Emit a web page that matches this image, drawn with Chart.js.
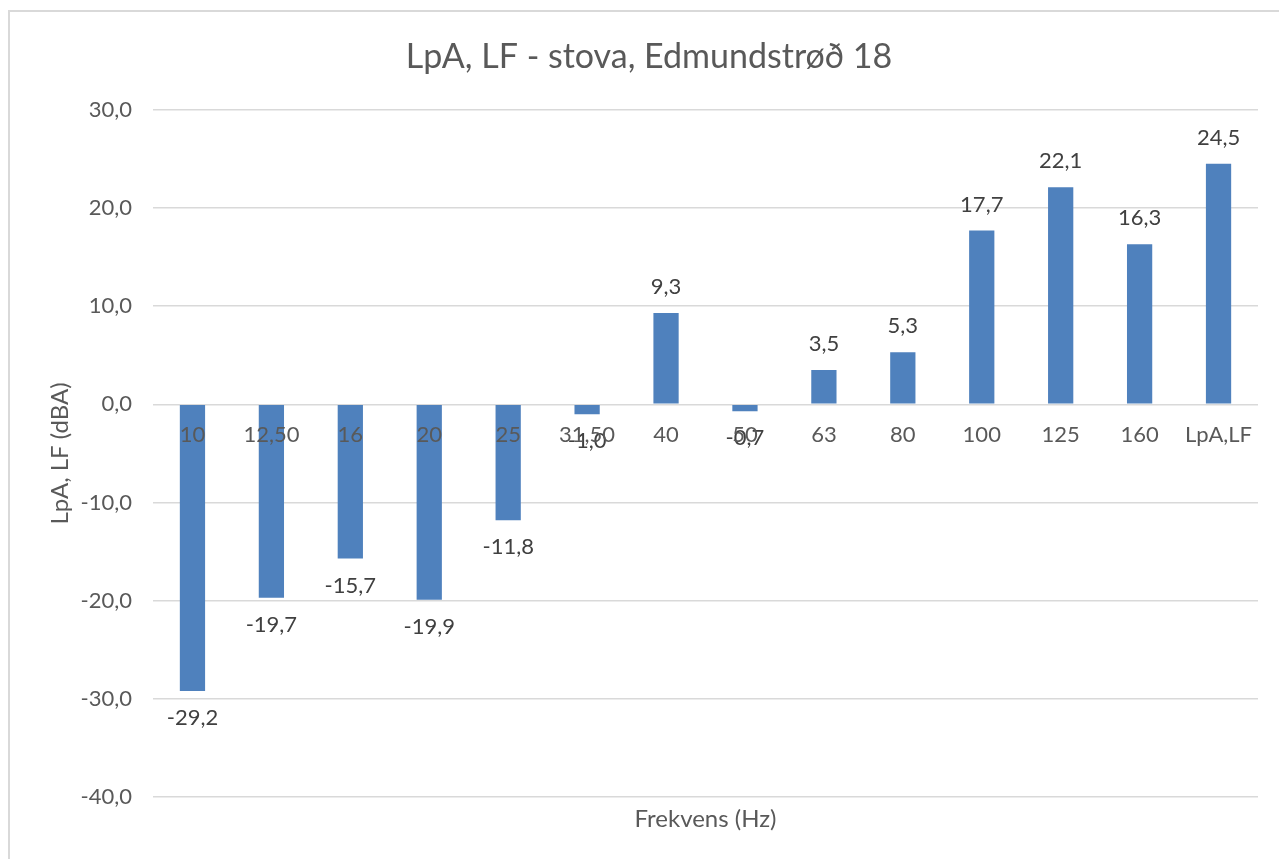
<!DOCTYPE html>
<html>
<head>
<meta charset="utf-8">
<script src="https://cdn.jsdelivr.net/npm/chart.js@4"></script>
<style>
  html, body { margin: 0; padding: 0; background: #fff; overflow: hidden; }
  #wrap { position: relative; width: 1279px; height: 859px; }
  #frame { position: absolute; left: 8px; top: 10px; width: 1400px; height: 1000px; border: 2px solid #d9d9d9; }
  canvas { position: absolute; left: 0; top: 0; }
</style>
</head>
<body>
<div id="wrap">
  <div id="frame"></div>
  <canvas id="chart" width="1279" height="859"></canvas>
</div>
<script>
const categories = ['10', '12,50', '16', '20', '25', '31,50', '40', '50', '63', '80', '100', '125', '160', 'LpA,LF'];
const levels = [-29.2, -19.7, -15.7, -19.9, -11.8, -1.0, 9.3, -0.7, 3.5, 5.3, 17.7, 22.1, 16.3, 24.5];
const yTicks = [30, 20, 10, 0, -10, -20, -30, -40];

const FONT = 'Lato, "Open Sans", sans-serif';
const fmt = v => Number(v).toFixed(1).replace('.', ',');

// draws the value above positive bars and below negative ones
const valueLabels = {
  id: 'valueLabels',
  afterDatasetsDraw(chart) {
    const ctx = chart.ctx;
    const meta = chart.getDatasetMeta(0);
    ctx.save();
    ctx.font = '22px ' + FONT;
    ctx.fillStyle = '#404040';
    ctx.textAlign = 'center';
    ctx.textBaseline = 'middle';
    meta.data.forEach((bar, i) => {
      const v = levels[i];
      const y = v >= 0 ? bar.y - 26 : bar.y + 27;
      ctx.fillText(fmt(v), bar.x, y);
    });
    ctx.restore();
  }
};

Chart.defaults.animation = false;

new Chart(document.getElementById('chart'), {
  type: 'bar',
  data: {
    labels: categories,
    datasets: [{
      data: levels,
      backgroundColor: '#4f81bd',
      borderWidth: 0,
      categoryPercentage: 1,
      barPercentage: 0.32
    }]
  },
  options: {
    responsive: false,
    layout: { padding: { left: 40, right: 21, top: 0, bottom: 25 } },
    plugins: {
      legend: { display: false },
      tooltip: { enabled: false },
      title: {
        display: true,
        text: 'LpA, LF - stova, Edmundstrøð 18',
        color: '#595959',
        font: { family: FONT, size: 34, weight: 'normal' },
        padding: { top: 37, bottom: 32 }
      }
    },
    scales: {
      x: {
        grid: { display: false },
        border: { display: false },
        ticks: { display: false },
        title: {
          display: true,
          text: 'Frekvens (Hz)',
          color: '#595959',
          font: { family: FONT, size: 24 },
          padding: { top: 4, bottom: 0 }
        },
        afterFit(scale) { scale.height = 37; }
      },
      // category labels sit on the zero line, on top of the bars
      xZero: {
        type: 'category',
        position: { y: 0 },
        grid: { display: false, drawTicks: false },
        border: { display: false },
        ticks: {
          z: 1,
          color: '#595959',
          font: { family: FONT, size: 22 },
          padding: 17,
          maxRotation: 0,
          autoSkip: false
        }
      },
      y: {
        min: -40,
        max: 30,
        afterBuildTicks(scale) { scale.ticks = yTicks.map(v => ({ value: v })); },
        grid: { color: '#d9d9d9', lineWidth: 1.5, drawTicks: false },
        border: { display: false },
        ticks: {
          color: '#595959',
          font: { family: FONT, size: 22 },
          padding: 21,
          callback: v => fmt(v)
        },
        title: {
          display: true,
          text: 'LpA, LF (dBA)',
          color: '#595959',
          font: { family: FONT, size: 24 },
          padding: { top: 6, bottom: 0 }
        },
        afterFit(scale) { scale.width = 113; }
      }
    }
  },
  plugins: [valueLabels]
});
</script>
</body>
</html>
